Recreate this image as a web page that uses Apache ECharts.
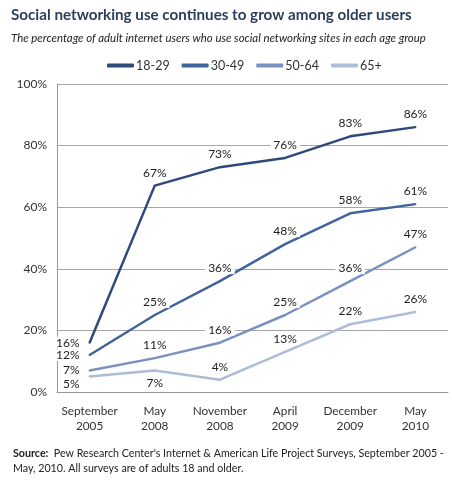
<!DOCTYPE html>
<html>
<head>
<meta charset="utf-8">
<script src="https://cdn.jsdelivr.net/npm/echarts@6/dist/echarts.min.js"></script>
<style>
  html, body { margin: 0; padding: 0; background: #fff; }
  #main { width: 452px; height: 480px; }
</style>
</head>
<body>
<div id="main"></div>
<script>
const categories = ['September\n2005', 'May\n2008', 'November\n2008', 'April\n2009', 'December\n2009', 'May\n2010']
const seriesNames = ['18-29', '30-49', '50-64', '65+']
const age18to29 = [16, 67, 73, 76, 83, 86]
const age30to49 = [12, 25, 36, 48, 58, 61]
const age50to64 = [7, 11, 16, 25, 36, 47]
const age65plus = [5, 7, 4, 13, 22, 26]
const yTicks = [0, 20, 40, 60, 80, 100]

const colors = ['#2d4a7a', '#40649b', '#7a91bf', '#adbcd9']
const font = 'Lato, sans-serif'

// label spot for a point: first column goes left of the line, 65+ dips below in May 2008
const labelPos = (seriesIdx, pointIdx) => {
    if (pointIdx === 0) return 'left'
    if (seriesIdx === 3 && pointIdx === 1) return 'bottom'
    return 'top'
}

const makeSeries = (name, values, idx) => ({
    name: name,
    type: 'line',
    symbol: 'circle',
    symbolSize: 2,
    showSymbol: true,
    z: 10 - idx,
    lineStyle: { width: 2.5, color: colors[idx] },
    itemStyle: { color: colors[idx] },
    data: values.map((v, i) => {
        const pos = labelPos(idx, i)
        return {
            value: v,
            label: {
                position: pos,
                distance: 6,
                offset: (pos === 'left' && idx === 3) ? [0, 8] : [0, 0]
            }
        }
    }),
    label: {
        show: true,
        formatter: '{c}%',
        color: '#222',
        fontFamily: font,
        fontSize: 12,
        backgroundColor: '#fff',
        padding: [0, 3]
    }
})

const option = {
    animation: false,
    title: [
        {
            text: 'Social networking use continues to grow among older users',
            left: 6, top: 3,
            textStyle: { fontFamily: font, fontSize: 15.2, fontWeight: 'bold', color: '#2b3f5c' }
        },
        {
            text: 'The percentage of adult internet users who use social networking sites in each age group',
            left: 6, top: 28,
            textStyle: { fontFamily: font, fontSize: 11.4, fontStyle: 'italic', fontWeight: 'normal', color: '#222' }
        },
        {
            text: '{b|Source:}  Pew Research Center\'s Internet & American Life Project Surveys, September 2005 -\nMay, 2010. All surveys are of adults 18 and older.',
            left: 8, top: 441,
            textStyle: {
                fontFamily: font, fontSize: 10.7, fontWeight: 'normal', color: '#222', lineHeight: 15,
                rich: { b: { fontFamily: font, fontSize: 10.7, fontWeight: 'bold', color: '#222' } }
            }
        }
    ],
    legend: {
        top: 54,
        left: 102,
        icon: 'roundRect',
        itemWidth: 27,
        itemHeight: 4,
        itemGap: 12,
        textStyle: { fontFamily: font, fontSize: 12.5, color: '#333', padding: [0, 0, 0, -3] },
        data: seriesNames
    },
    grid: { left: 57, right: 4, top: 84, bottom: 88 },
    xAxis: {
        type: 'category',
        data: categories,
        boundaryGap: true,
        axisLine: { show: true, lineStyle: { color: '#999', width: 1 } },
        axisTick: { show: false },
        axisLabel: { fontFamily: font, fontSize: 11.8, color: '#333', margin: 12, lineHeight: 15, interval: 0 }
    },
    yAxis: {
        type: 'value',
        min: yTicks[0],
        max: yTicks[yTicks.length - 1],
        interval: 20,
        axisLine: { show: true, lineStyle: { color: '#999', width: 1 } },
        axisTick: { show: false },
        axisLabel: { formatter: '{value}%', fontFamily: font, fontSize: 12, color: '#333', margin: 10 },
        splitLine: { show: true, lineStyle: { color: '#a6a6a6', width: 1 } }
    },
    series: [
        makeSeries(seriesNames[0], age18to29, 0),
        makeSeries(seriesNames[1], age30to49, 1),
        makeSeries(seriesNames[2], age50to64, 2),
        makeSeries(seriesNames[3], age65plus, 3)
    ]
}

const chart = echarts.init(document.getElementById('main'))
chart.setOption(option)
</script>
</body>
</html>
